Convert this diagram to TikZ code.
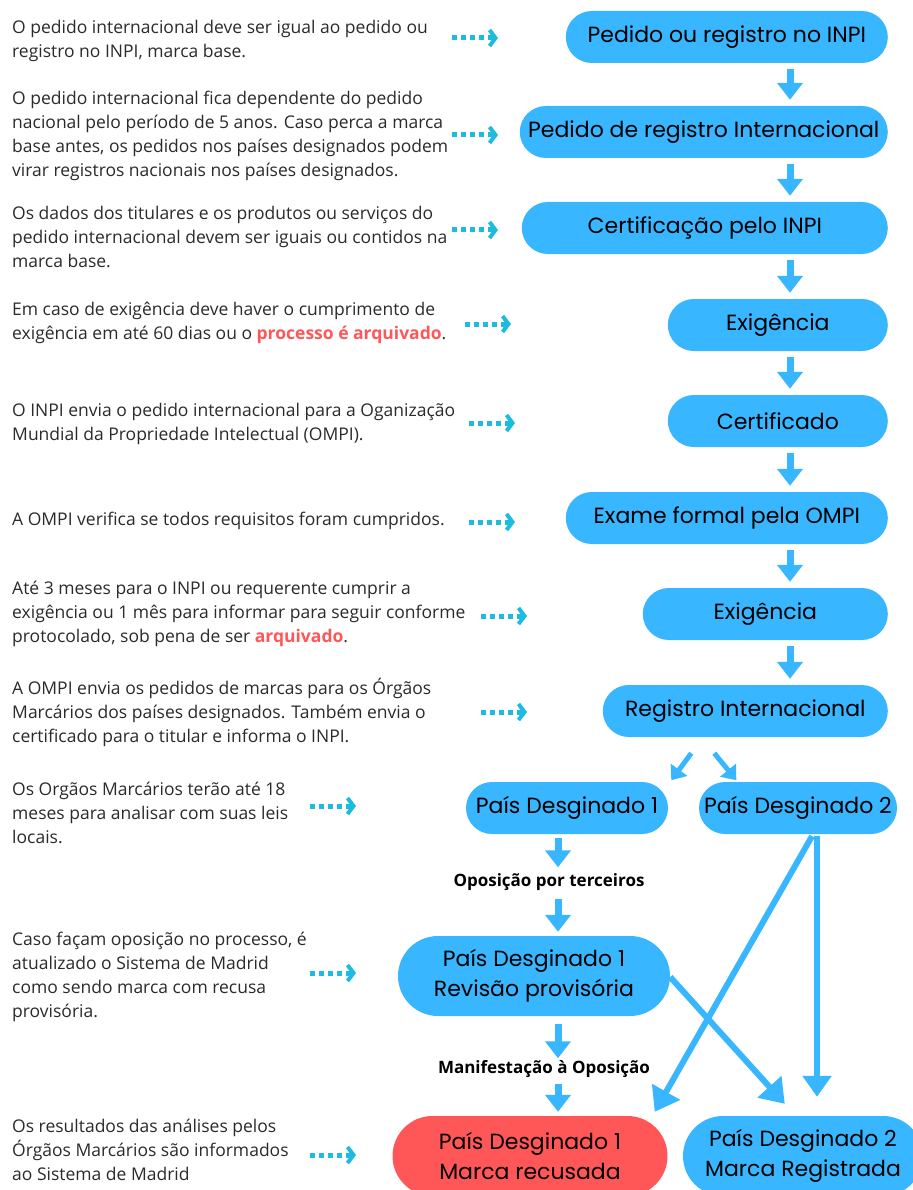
\documentclass[tikz,border=0pt]{standalone}
\usepackage{fontspec}
\setmainfont{Open Sans}
\newfontfamily\popfont{Poppins}
\usetikzlibrary{arrows.meta,positioning,calc}
\definecolor{boxblue}{HTML}{38B6FF}
\definecolor{boxred}{HTML}{FF5757}
\definecolor{dotcyan}{HTML}{1DBBDD}
\definecolor{txtgray}{HTML}{2B2B2B}

\begin{document}
\begin{tikzpicture}[
    x=1pt,y=-1pt,
    box/.style={rectangle,rounded corners=26pt,fill=boxblue,minimum height=52pt,inner sep=0pt,align=center,text=black,font=\popfont\fontsize{22}{30}\selectfont},
    tall/.style={box,rounded corners=40pt,minimum height=80pt},
    txt/.style={anchor=west,align=left,inner sep=0pt,text=txtgray,font=\fontsize{17.5}{24}\selectfont},
    lbl/.style={inner sep=0pt,text=black,font=\bfseries\fontsize{17}{20}\selectfont},
    flow/.style={draw=boxblue,line width=7pt,-{Triangle[length=17pt,width=25pt]}},
    diag/.style={draw=boxblue,line width=6pt,-{Triangle[length=23pt,width=31pt]}},
    dotarr/.style={draw=dotcyan,line width=5pt,dash pattern=on 5pt off 4pt,-{Straight Barb[length=6pt,width=16pt,line width=4pt]}},
    >=Latex]
    \fill[white] (0,0) rectangle (912,1190);
    \useasboundingbox (0,0) rectangle (912,1190);

    % coluna principal
    \node[box,minimum width=322pt,anchor=east] (inpi) at (888,37) {Pedido ou registro no INPI};
    \node[box,minimum width=368pt,anchor=east] (intl) at (888,132) {Pedido de registro Internacional};
    \node[box,minimum width=366pt,anchor=east] (cert) at (888,228) {Certificação pelo INPI};
    \node[box,minimum width=220pt,anchor=east] (exig1) at (888,325) {Exigência};
    \node[box,minimum width=220pt,anchor=east] (certf) at (888,421) {Certificado};
    \node[box,minimum width=322pt,anchor=east] (exame) at (888,518) {Exame formal pela OMPI};
    \node[box,minimum width=245pt,anchor=east] (exig2) at (888,614) {Exigência};
    \node[box,minimum width=285pt,anchor=east] (regi) at (888,711) {Registro Internacional};

    % paises designados
    \node[box,minimum width=202pt] (pd1) at (567,808) {País Desginado 1};
    \node[box,minimum width=198pt] (pd2) at (798,808) {País Desginado 2};
    \node[lbl] (opo) at (549,882) {Oposição por terceiros};
    \node[tall,minimum width=272pt] (rev) at (534,976) {País Desginado 1\\Revisão provisória};
    \node[lbl] (mani) at (544,1069) {Manifestação à Oposição};
    \node[tall,fill=boxred,minimum width=275pt] (recus) at (530,1156) {País Desginado 1\\Marca recusada};
    \node[tall,minimum width=240pt] (marca) at (803,1156) {País Desginado 2\\Marca Registrada};

    % setas
    \coordinate (ax) at (790,0);
    \coordinate (bx) at (558,0);
    \draw[flow,shorten <=6pt,shorten >=6pt] (inpi.south -| ax) -- (intl.north -| ax);
    \draw[flow,shorten <=6pt,shorten >=6pt] (intl.south -| ax) -- (cert.north -| ax);
    \draw[flow,shorten <=6pt,shorten >=6pt] (cert.south -| ax) -- (exig1.north -| ax);
    \draw[flow,shorten <=6pt,shorten >=6pt] (exig1.south -| ax) -- (certf.north -| ax);
    \draw[flow,shorten <=6pt,shorten >=6pt] (certf.south -| ax) -- (exame.north -| ax);
    \draw[flow,shorten <=6pt,shorten >=6pt] (exame.south -| ax) -- (exig2.north -| ax);
    \draw[flow,shorten <=6pt,shorten >=6pt] (exig2.south -| ax) -- (regi.north -| ax);
    \draw[diag,line width=5pt,-{Triangle[length=13pt,width=20pt]}] ($(regi.south)+(-54,16)$) -- ($(regi.south)+(-74,43)$);
    \draw[diag,line width=5pt,-{Triangle[length=13pt,width=20pt]}] ($(regi.south)+(-31,16)$) -- ($(regi.south)+(-9,43)$);
    \draw[flow,shorten <=4pt,shorten >=6pt] (pd1.south -| bx) -- (opo.north -| bx);
    \draw[flow,shorten <=8pt,shorten >=4pt] (opo.south -| bx) -- (rev.north -| bx);
    \draw[flow,shorten <=8pt,shorten >=2pt] (rev.south -| bx) -- (mani.north -| bx);
    \draw[flow,shorten <=6pt,shorten >=4pt] (mani.south -| bx) -- (recus.north -| bx);
    \draw[diag] ($(pd2.south)+(14,2)$) -- ($(recus.north east)+(-13,-4)$);
    \draw[diag,-{Triangle[length=21pt,width=28pt]}] ($(pd2.south)+(19,2)$) -- ($(pd2.south |- marca.north)+(19,-19)$);
    \draw[diag] ($(rev.east)+(0,1)$) -- ($(marca.north west)+(102,-12)$);

    % textos explicativos
    \node[txt] (t1) at (12,41) {O pedido internacional deve ser igual ao pedido ou\\registro no INPI, marca base.};
    \node[txt] (t2) at (12,136) {O pedido internacional fica dependente do pedido\\nacional pelo período de 5 anos. Caso perca a marca\\base antes, os pedidos nos países designados podem\\virar registros nacionais nos países designados.};
    \node[txt] (t3) at (12,237) {Os dados dos titulares e os produtos ou serviços do\\pedido internacional devem ser iguais ou contidos na\\marca base.};
    \node[txt] (t4) at (12,323) {Em caso de exigência deve haver o cumprimento de\\exigência em até 60 dias ou o \textcolor{boxred}{\bfseries processo é arquivado}.};
    \node[txt] (t5) at (12,424) {O INPI envia o pedido internacional para a Oganização\\Mundial da Propriedade Intelectual (OMPI).};
    \node[txt] (t6) at (12,521) {A OMPI verifica se todos requisitos foram cumpridos.};
    \node[txt] (t7) at (12,614) {Até 3 meses para o INPI ou requerente cumprir a\\exigência ou 1 mês para informar para seguir conforme\\protocolado, sob pena de ser \textcolor{boxred}{\bfseries arquivado}.};
    \node[txt] (t8) at (12,712) {A OMPI envia os pedidos de marcas para os Órgãos\\Marcários dos países designados. Também envia o\\certificado para o titular e informa o INPI.};
    \node[txt] (t9) at (12,813) {Os Orgãos Marcários terão até 18\\meses para analisar com suas leis\\locais.};
    \node[txt] (t10) at (12,977) {Caso façam oposição no processo, é\\atualizado o Sistema de Madrid\\como sendo marca com recusa\\provisória.};
    \node[txt] (t11) at (12,1150) {Os resultados das análises pelos\\Órgãos Marcários são informados\\ao Sistema de Madrid};

    % setas pontilhadas
    \coordinate (d1) at (452,38);
    \coordinate (d2) at (452,135);
    \coordinate (d3) at (452,230);
    \coordinate (d4) at (465,324);
    \coordinate (d5) at (469,423);
    \coordinate (d6) at (469,522);
    \coordinate (d7) at (481,616);
    \coordinate (d8) at (481,712);
    \coordinate (d9) at (310,806);
    \coordinate (d10) at (310,973);
    \coordinate (d11) at (310,1155);
    \foreach \d in {d1,d2,d3,d4,d5,d6,d7,d8,d9,d10,d11}
      \draw[dotarr] (\d) -- ++(46,0);
  \end{tikzpicture}
\end{document}
